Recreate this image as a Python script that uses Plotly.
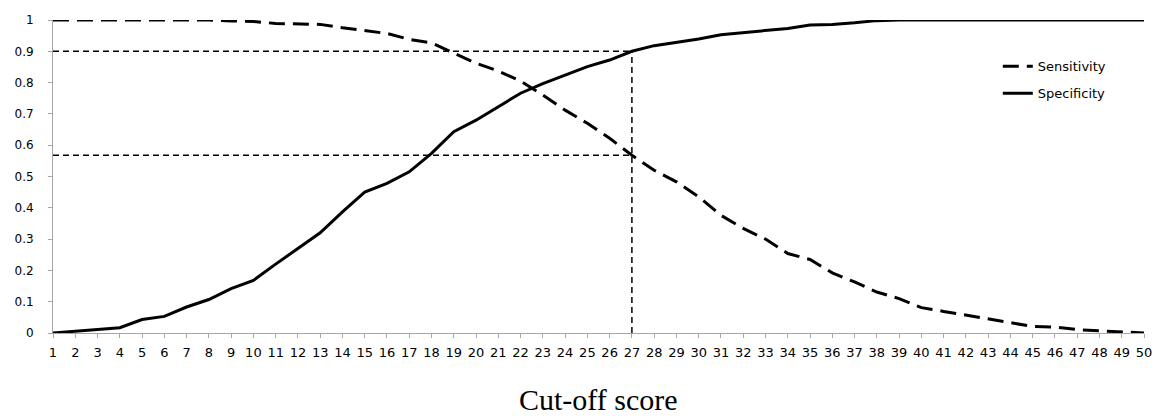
import plotly.graph_objects as go

scores = list(range(1, 51))
tick_labels = [str(s) for s in scores]

sensitivity = [1, 1, 1, 1, 1, 1, 1, 1, 0.997, 0.995, 0.989, 0.987, 0.986, 0.975,
               0.966, 0.957, 0.938, 0.927, 0.894, 0.862, 0.837, 0.805, 0.76, 0.712,
               0.67, 0.622, 0.568, 0.52, 0.483, 0.435, 0.376, 0.334, 0.30, 0.254,
               0.235, 0.192, 0.163, 0.131, 0.11, 0.081, 0.069, 0.057, 0.047, 0.033,
               0.021, 0.019, 0.011, 0.007, 0.004, 0.0]

specificity = [0, 0.005, 0.01, 0.017, 0.043, 0.053, 0.083, 0.107, 0.142, 0.168,
               0.22, 0.27, 0.32, 0.387, 0.45, 0.478, 0.515, 0.574, 0.643, 0.68,
               0.723, 0.766, 0.797, 0.824, 0.851, 0.872, 0.9, 0.918, 0.928, 0.939,
               0.953, 0.96, 0.966, 0.973, 0.984, 0.986, 0.991, 0.998, 1, 1,
               1, 1, 1, 1, 1, 1, 1, 1, 1, 1]

cutoff = 27
y_ticks = [0, 0.1, 0.2, 0.3, 0.4, 0.5, 0.6, 0.7, 0.8, 0.9, 1]
y_tick_labels = ["0", "0.1", "0.2", "0.3", "0.4", "0.5", "0.6", "0.7", "0.8", "0.9", "1"]

i = scores.index(cutoff)
sens_cut = sensitivity[i]
spec_cut = specificity[i]

fig = go.Figure()

ref_style = dict(color="black", width=1.5, dash="6px,4px")
# reference lines at the chosen cut-off
fig.add_trace(go.Scatter(x=[scores[0], cutoff], y=[spec_cut, spec_cut], mode="lines",
                         line=ref_style, showlegend=False, hoverinfo="skip"))
fig.add_trace(go.Scatter(x=[scores[0], cutoff], y=[sens_cut, sens_cut], mode="lines",
                         line=ref_style, showlegend=False, hoverinfo="skip"))
fig.add_trace(go.Scatter(x=[cutoff, cutoff], y=[0, spec_cut], mode="lines",
                         line=ref_style, showlegend=False, hoverinfo="skip"))

fig.add_trace(go.Scatter(x=scores, y=sensitivity, mode="lines", name="Sensitivity",
                         legendgroup="a",
                         line=dict(color="black", width=3, dash="16px,8px")))
fig.add_trace(go.Scatter(x=scores, y=specificity, mode="lines", name="Specificity",
                         legendgroup="b",
                         line=dict(color="black", width=3)))

fig.update_layout(
    width=1164, height=419,
    margin=dict(l=53, r=15, t=20, b=86),
    paper_bgcolor="white", plot_bgcolor="white",
    font=dict(family="DejaVu Sans", color="black", size=12),
    showlegend=True,
    legend=dict(x=0.866, y=0.9, xanchor="left", yanchor="top",
                font=dict(family="DejaVu Sans", size=13, color="black"),
                tracegroupgap=7, bgcolor="rgba(0,0,0,0)"),
    xaxis=dict(range=[1, 50], tickmode="array", tickvals=scores, ticktext=tick_labels,
               showgrid=False, zeroline=False, showline=True, linecolor="#a6a6a6",
               linewidth=1, ticks="outside", ticklen=4, tickcolor="#a6a6a6",
               tickfont=dict(size=13, family="DejaVu Sans"), ticklabelstandoff=3),
    yaxis=dict(range=[0, 1], tickmode="array", tickvals=y_ticks, ticktext=y_tick_labels,
               showgrid=False, zeroline=False, showline=True, linecolor="#a6a6a6",
               linewidth=1, ticks="outside", ticklen=4, tickcolor="#a6a6a6",
               tickfont=dict(size=12, family="DejaVu Sans"), ticklabelstandoff=12),
    annotations=[dict(text="Cut-off score", xref="paper", yref="paper", x=0.5, y=-0.212,
                      xanchor="center", yanchor="middle", showarrow=False,
                      font=dict(family="Liberation Serif", size=30, color="black"))],
)

fig.write_html("out.html", config={"displayModeBar": False},
               post_script="document.body.style.margin='0';document.body.style.overflow='hidden';")
